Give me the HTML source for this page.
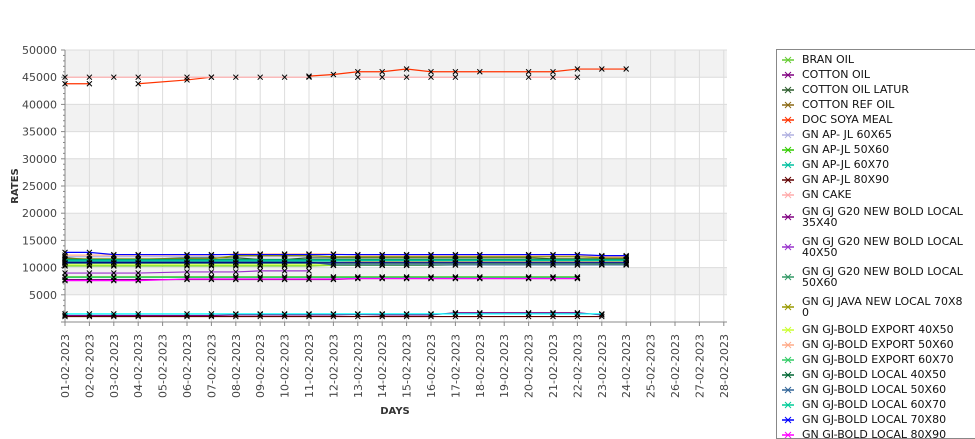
<!DOCTYPE html>
<html><head><meta charset="utf-8"><style>
html,body{margin:0;padding:0;background:#fff;width:975px;height:429px;overflow:hidden;font-family:"DejaVu Sans","Liberation Sans",sans-serif}
#legend{position:absolute;left:776px;top:49px;width:210px;height:390px;border:1px solid #888;overflow:hidden;background:#fff}
.li{position:relative;padding-left:25px;font-size:11px;color:#111;line-height:15px;height:15px;width:175px;white-space:nowrap}
.li.two{height:30px;line-height:11px;padding-top:4px;box-sizing:border-box}
.li svg{position:absolute;left:4px;top:2px}
.li.two svg{top:9px}
</style></head><body>
<svg id="chart" width="770" height="429" style="position:absolute;left:0;top:0" xmlns="http://www.w3.org/2000/svg"></svg>
<div id="legend" style="padding-top:2px;box-sizing:border-box"></div>
<script>
const dayLabels=['01-02-2023','02-02-2023','03-02-2023','04-02-2023','05-02-2023','06-02-2023','07-02-2023','08-02-2023','09-02-2023','10-02-2023','11-02-2023','12-02-2023','13-02-2023','14-02-2023','15-02-2023','16-02-2023','17-02-2023','18-02-2023','19-02-2023','20-02-2023','21-02-2023','22-02-2023','23-02-2023','24-02-2023','25-02-2023','26-02-2023','27-02-2023','28-02-2023'];
const dataDays=[1,2,3,4,6,7,8,9,10,11,12,13,14,15,16,17,18,20,21,22,23,24];
const yTicks=[5000,10000,15000,20000,25000,30000,35000,40000,45000,50000];
const seriesNames=['BRAN OIL','COTTON OIL','COTTON OIL LATUR','COTTON REF OIL','DOC SOYA MEAL','GN AP- JL 60X65','GN AP-JL 50X60','GN AP-JL 60X70','GN AP-JL 80X90','GN CAKE','GN GJ G20 NEW BOLD LOCAL|35X40','GN GJ G20 NEW BOLD LOCAL|40X50','GN GJ G20 NEW BOLD LOCAL|50X60','GN GJ JAVA NEW LOCAL 70X8|0','GN GJ-BOLD EXPORT 40X50','GN GJ-BOLD EXPORT 50X60','GN GJ-BOLD EXPORT 60X70','GN GJ-BOLD LOCAL 40X50','GN GJ-BOLD LOCAL 50X60','GN GJ-BOLD LOCAL 60X70','GN GJ-BOLD LOCAL 70X80','GN GJ-BOLD LOCAL 80X90','GN KERNEL','GN OIL'];
const seriesColors=['#66cc33','#800080','#2e5e2e','#8b6914','#ff3300','#b0b0e0','#33cc00','#00c0a0','#600000','#ffaaaa','#800080','#9933cc','#339966','#999900','#ccff33','#ffaa88','#33cc66','#006633','#336699','#00cc99','#0000ff','#ff00ff','#000080','#00ffff'];
const N=null;
const seriesValues=[
[10300,10300,10300,10300,10300,10300,10300,10300,10300,10300,10400,10400,10400,10400,10400,10500,10500,10500,10500,10500,10600,10600],
[1200,1200,1200,1200,1200,1200,1300,1300,1300,1300,1300,1400,1300,1300,1300,1700,1700,1700,1700,1700,1300,N],
[11800,11500,11500,11500,11800,11800,11800,11500,11500,11800,11800,11800,11800,11800,11800,11800,11800,11800,11600,11600,11600,11600],
[11000,11000,11000,11000,11000,11000,11200,11200,11200,11200,11200,11200,11200,11200,11200,11200,11200,11200,11200,11200,11200,11200],
[43800,43800,N,43800,44500,45000,N,N,N,45200,45500,46000,46000,46500,46000,46000,46000,46000,46000,46500,46500,46500],
[12000,12000,12000,12000,12000,12000,12000,12000,12000,12000,12000,12000,12000,12000,12000,12000,12000,12000,12000,12000,12000,12000],
[8300,8300,8300,8300,8300,8300,8300,8300,8300,8300,8300,8300,8300,8300,8300,8300,8300,8300,8300,8300,N,N],
[11200,11200,11200,11200,11200,11200,11200,11200,11200,11200,11200,11300,11300,11300,11300,11300,11300,11300,11300,11300,11300,11300],
[1000,1000,1000,1000,1000,1000,1000,1000,1000,1000,1000,1000,1000,1000,1000,1000,1000,1000,1000,1000,1000,N],
[45000,45000,45000,45000,45000,45000,45000,45000,45000,45000,N,45000,45000,45000,45000,45000,N,45000,45000,45000,N,N],
[7800,7800,7800,7800,7800,7800,7800,7800,7800,7800,7800,8000,8000,8000,8000,8000,8000,8000,8000,8000,N,N],
[9000,9000,9000,9000,9200,9200,9200,9400,9400,9400,N,N,N,N,N,N,N,N,N,N,N,N],
[10800,10800,10800,10800,10800,10800,10800,10800,10800,10800,10800,10800,10800,10800,10800,10800,10800,10800,10800,10800,10800,10800],
[11600,11600,11600,11600,11600,11600,12200,12200,12200,12200,12000,12000,12000,12000,12000,12000,12000,12000,12000,12000,11800,11800],
[10500,10500,10500,10500,10500,10500,10500,10500,10500,10500,10500,10500,10500,10500,10500,10500,10500,10500,10500,10500,10500,10500],
[12300,12300,12300,12300,12300,12300,12500,12500,12500,12500,12500,12300,12300,12300,12300,12300,12300,12300,12300,12300,12000,12000],
[8200,8200,8200,8200,8200,8200,8200,8200,8200,8200,8200,8200,8200,8200,8200,8200,8200,8200,8200,8200,N,N],
[11500,11500,11500,11500,11500,11500,11500,11500,11500,11500,11500,11500,11500,11500,11500,11500,11500,11500,11500,11500,11500,11500],
[11000,11000,11000,11000,11000,11000,11000,11000,11000,11000,10500,10500,10500,10500,10500,10500,10500,10500,10500,10500,10500,10500],
[11400,11400,11400,11400,11400,11400,11400,11400,11400,11400,11400,11400,11400,11400,11400,11400,11400,11400,11400,11400,11400,11400],
[12800,12800,12400,12400,12400,12400,12400,12400,12400,12400,12400,12400,12400,12400,12400,12400,12400,12400,12400,12400,12200,12200],
[7600,7600,7600,7600,7900,7900,7900,7900,7900,7900,7900,8000,8000,8000,8000,8000,8000,8000,8000,8000,N,N],
[10900,10900,10900,10900,10900,10900,10900,10900,10900,10900,10900,10900,10900,10900,10900,10900,10900,10900,10900,10900,10900,10900],
[1500,1500,1500,1500,1500,1500,1500,1500,1500,1500,1500,1500,1500,1500,1500,1500,1500,1500,1500,1500,1500,N]
];
const NS='http://www.w3.org/2000/svg';
const svg=document.getElementById('chart');
const X0=65,X1=727,Y0=322,Y1=50,YMAX=50000,DX=24.4;
const xs=d=>X0+(d-1)*DX;
const ys=v=>Y0-(v/YMAX)*(Y0-Y1);
function mk(t,a){const e=document.createElementNS(NS,t);for(const k in a)e.setAttribute(k,a[k]);svg.appendChild(e);return e;}
for(let i=0;i<yTicks.length;i++){
  if(i%2===1){const b=mk('rect',{x:X0,y:ys(yTicks[i]),width:X1-X0,height:ys(yTicks[i]-5000)-ys(yTicks[i]),fill:'#f2f2f2'});
  
  }
}
dayLabels.forEach((l,i)=>{const g=mk('line',{x1:xs(i+1),x2:xs(i+1),y1:Y1,y2:Y0,stroke:'#dcdcdc','stroke-width':1});

});
yTicks.forEach(v=>{const g=mk('line',{x1:X0,x2:X1,y1:ys(v),y2:ys(v),stroke:'#dcdcdc','stroke-width':1});

});
const ya=mk('line',{x1:X0,x2:X0,y1:Y1,y2:Y0,stroke:'#888'});


const xa=mk('line',{x1:X0-4,x2:X1,y1:Y0,y2:Y0,stroke:'#888'});


for(let v=0;v<=YMAX;v+=1000){mk('line',{x1:X0-(v%5000===0?4:2),x2:X0,y1:ys(v),y2:ys(v),stroke:'#888'});}
yTicks.forEach(v=>{const t=mk('text',{x:X0-8,y:ys(v)+4,'text-anchor':'end','font-size':11,fill:'#444'});t.textContent=v;

});
dayLabels.forEach((l,i)=>{const x=xs(i+1);mk('line',{x1:x,x2:x,y1:Y0,y2:Y0+4,stroke:'#888'});
const t=mk('text',{x:0,y:0,'text-anchor':'end','font-size':11,fill:'#444',transform:`translate(${x+4},${Y0+12}) rotate(-90)`});t.textContent=l;

});
const xt=mk('text',{x:395,y:414,'text-anchor':'middle','font-size':10,'font-weight':'bold',fill:'#333'});xt.textContent='DAYS';


const yt=mk('text',{x:0,y:0,'text-anchor':'middle','font-size':10,'font-weight':'bold',fill:'#333',transform:'translate(18,186) rotate(-90)'});yt.textContent='RATES';


seriesValues.forEach((vals,si)=>{
  let d='';let pen=false;
  vals.forEach((v,i)=>{if(v===null){pen=false;return;}d+=(pen?'L':'M')+xs(dataDays[i])+','+ys(v);pen=true;});
  const p=mk('path',{d:d,fill:'none',stroke:seriesColors[si],'stroke-width':1.2});
  
  
  vals.forEach((v,i)=>{if(v===null)return;const x=xs(dataDays[i]),y=ys(v);
    const m=mk('path',{d:`M${x-2.5},${y-2.5}L${x+2.5},${y+2.5}M${x-2.5},${y+2.5}L${x+2.5},${y-2.5}`,stroke:'#000','stroke-width':1});
    
    });
});
const lg=document.getElementById('legend');
seriesNames.forEach((n,i)=>{
  const d=document.createElement('div');
  const parts=n.split('|');
  d.className='li'+(parts.length>1?' two':'');
  
  
  const c=seriesColors[i];
  d.innerHTML=`<svg width="14" height="12"><line x1="1" y1="6" x2="13" y2="6" stroke="${c}" stroke-width="1.5"/><path d="M4,3L10,9M4,9L10,3" stroke="${c}" stroke-width="1"/></svg>${parts.join('<br>')}`;
  lg.appendChild(d);
});
</script>
</body></html>
